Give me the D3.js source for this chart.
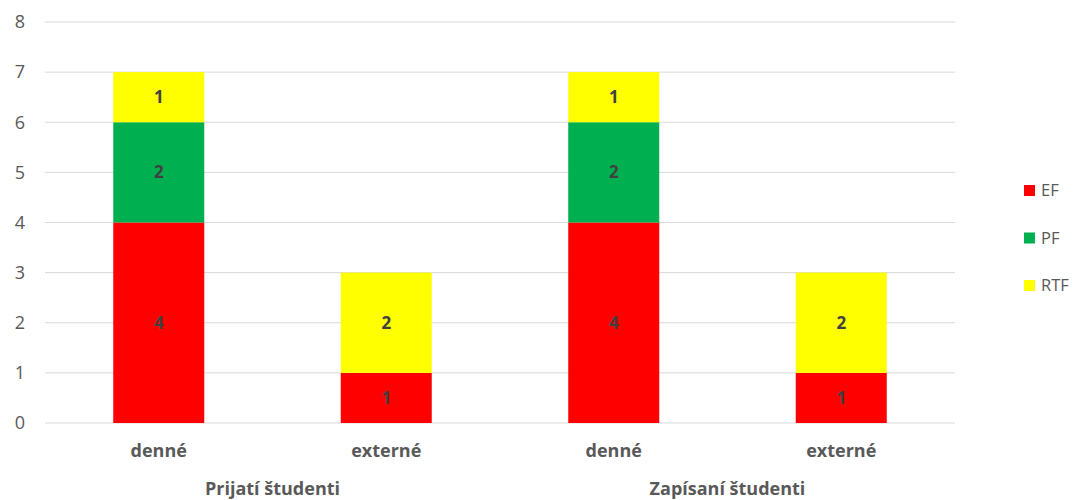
<!DOCTYPE html>
<html><head><meta charset="utf-8">
<script src="https://cdn.jsdelivr.net/npm/d3@7"></script>
<style>body{margin:0;background:#fff;} svg{display:block;font-family:"Open Sans",sans-serif;}</style>
</head><body><svg id="c" width="1074" height="500"></svg>
<script>
const groups = ["Prijatí študenti", "Zapísaní študenti"];
const categories = ["denné", "externé"];
const seriesNames = ["EF", "PF", "RTF"];
const seriesColors = ["#FF0000", "#00B050", "#FFFF00"];
const EF = [4, 1, 4, 1];
const PF = [2, 0, 2, 0];
const RTF = [1, 2, 1, 2];
const yTicks = [0, 1, 2, 3, 4, 5, 6, 7, 8];

const rows = [];
groups.forEach((g, gi) => categories.forEach((c, ci) => {
  const i = gi * categories.length + ci;
  rows.push({key: g + "|" + c, group: g, cat: c, EF: EF[i], PF: PF[i], RTF: RTF[i]});
}));

const svg = d3.select("#c");
const mLeft = 45, mRight = 955, mTop = 22, mBottom = 423;
const x = d3.scaleBand().domain(rows.map(r => r.key)).range([mLeft, mRight]).padding(0);
const y = d3.scaleLinear().domain([0, 8]).range([mBottom, mTop]);
const barW = x.bandwidth() * 0.4;

// gridlines
svg.append("g").selectAll("line").data(yTicks).join("line")
  .attr("x1", mLeft).attr("x2", mRight)
  .attr("y1", d => y(d)).attr("y2", d => y(d))
  .attr("stroke", "#d9d9d9").attr("stroke-width", 1);

// y axis labels
const yAxis = d3.axisLeft(y).tickValues(yTicks).tickSize(0).tickPadding(0);
const ga = svg.append("g").attr("transform", `translate(${mLeft - 20},0)`).call(yAxis);
ga.select(".domain").remove();
ga.selectAll("text").attr("font-size", 18).attr("fill", "#595959").attr("font-family", "Open Sans, sans-serif");

const stack = d3.stack().keys(seriesNames)(rows);
const layers = svg.append("g").selectAll("g").data(stack).join("g")
  .attr("fill", (d, i) => seriesColors[i]);
layers.selectAll("rect").data(d => d.filter(p => p[1] - p[0] > 0)).join("rect")
  .attr("x", d => x(d.data.key) + (x.bandwidth() - barW) / 2)
  .attr("width", barW)
  .attr("y", d => y(d[1]))
  .attr("height", d => y(d[0]) - y(d[1]));

const lab = svg.append("g");
stack.forEach(layer => {
  layer.forEach(p => {
    const v = p[1] - p[0];
    if (v <= 0) return;
    lab.append("text")
      .attr("x", x(p.data.key) + x.bandwidth() / 2)
      .attr("y", (y(p[0]) + y(p[1])) / 2)
      .attr("dy", "0.35em")
      .attr("text-anchor", "middle")
      .attr("font-size", 17).attr("font-weight", "bold").attr("fill", "#404040")
      .text(v);
  });
});

// category labels
svg.append("g").selectAll("text").data(rows).join("text")
  .attr("x", d => x(d.key) + x.bandwidth() / 2)
  .attr("y", 457)
  .attr("text-anchor", "middle")
  .attr("font-size", 18).attr("font-weight", "bold").attr("fill", "#595959")
  .text(d => d.cat);

// group labels
svg.append("g").selectAll("text").data(groups).join("text")
  .attr("x", (g, gi) => {
    const ks = rows.filter(r => r.group === g).map(r => x(r.key));
    return (d3.min(ks) + d3.max(ks) + x.bandwidth()) / 2;
  })
  .attr("y", 495)
  .attr("text-anchor", "middle")
  .attr("font-size", 18).attr("font-weight", "bold").attr("fill", "#595959")
  .text(d => d);

// legend
const leg = svg.append("g").selectAll("g").data(seriesNames).join("g")
  .attr("transform", (d, i) => `translate(1024,${190.5 + i * 47.5})`);
leg.append("rect").attr("x", 0).attr("y", -5.5).attr("width", 11).attr("height", 11)
  .attr("fill", (d, i) => seriesColors[i]);
leg.append("text").attr("x", 17).attr("y", 0).attr("dy", "0.35em")
  .attr("font-size", 16.5).attr("fill", "#595959").text(d => d);
</script></body></html>
